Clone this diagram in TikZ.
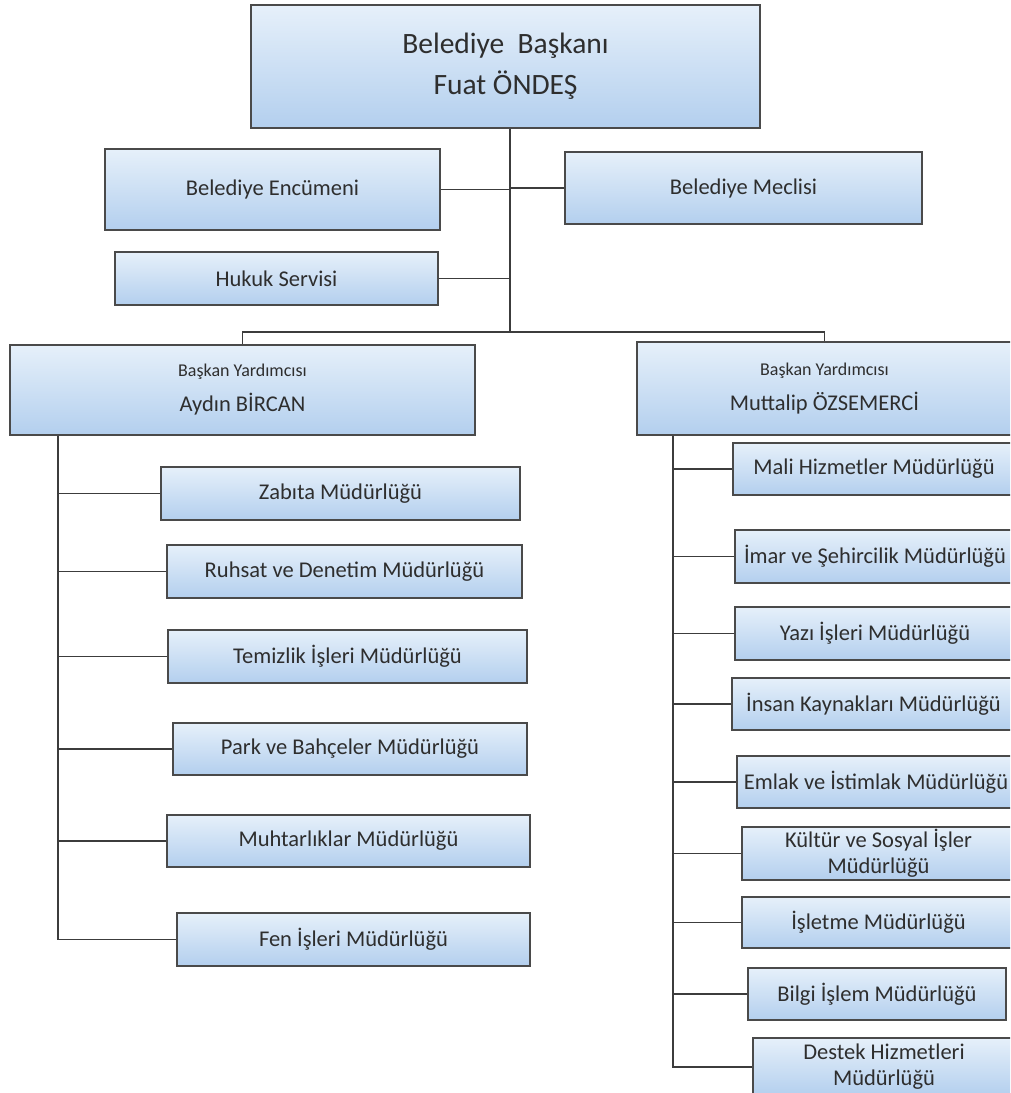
\documentclass[tikz,border=0pt]{standalone}
\usepackage{fontspec}
\setmainfont{Carlito}
\definecolor{kenar}{HTML}{4A4A4A}
\definecolor{hat}{HTML}{3C3C3C}
\definecolor{ust}{HTML}{E6F0FA}
\definecolor{alt}{HTML}{B3CFEE}
\definecolor{yazi}{HTML}{2E2E2E}
\tikzset{
  kutu/.style={draw=kenar, line width=1.4pt, top color=ust, bottom color=alt, inner sep=0pt,
    align=center, text=yazi, font=\fontsize{22.5}{26}\selectfont},
  hatcizgi/.style={draw=hat, line width=1.6pt}
}
\begin{document}
\begin{tikzpicture}[x=1pt,y=-1pt]
\useasboundingbox (0,0) rectangle (1010,1093);
\clip (0,0) rectangle (1010,1093);
\fill[white] (0,0) rectangle (1010,1093);

%Baskan
\node[kutu, minimum width=509pt, minimum height=123pt, font=\fontsize{29.5}{41}\selectfont] (bsk) at (505.5,66.5) {Belediye\ \ Başkanı\\Fuat ÖNDEŞ};
\node[kutu, minimum width=335pt, minimum height=81pt] (enc) at (272.5,189.5) {Belediye Encümeni};
\node[kutu, minimum width=357pt, minimum height=72pt] (mec) at (743.5,188) {Belediye Meclisi};
\node[kutu, minimum width=323pt, minimum height=53pt] (huk) at (276.5,278.5) {Hukuk Servisi};

%Baskan Yardimcilari
\node[kutu, minimum width=465pt, minimum height=90pt] (vpl) at (242.5,390) {{\fontsize{18}{20}\selectfont Başkan Yardımcısı}\\[9pt]Aydın BİRCAN};
\node[kutu, minimum width=375pt, minimum height=93pt] (vpr) at (824.5,388.5) {{\fontsize{18}{20}\selectfont Başkan Yardımcısı}\\[9pt]Muttalip ÖZSEMERCİ};

\coordinate (split) at (510,332);
\draw[hatcizgi] (bsk.south -| split) -- (split);
\draw[hatcizgi] (vpl.north) |- (split) -| (vpr.north);
\draw[hatcizgi] (enc.east) -- (enc.east -| split);
\draw[hatcizgi] (mec.west) -- (mec.west -| split);
\draw[hatcizgi] (huk.east) -- (huk.east -| split);

%Sol kol
\node[kutu, minimum width=359pt, minimum height=53pt] (zab) at (340.5,493.5) {Zabıta Müdürlüğü};
\node[kutu, minimum width=355pt, minimum height=53pt] (ruh) at (344.5,571.5) {Ruhsat ve Denetim Müdürlüğü};
\node[kutu, minimum width=359pt, minimum height=53pt] (tem) at (347.5,656.5) {Temizlik İşleri Müdürlüğü};
\node[kutu, minimum width=354pt, minimum height=52pt] (prk) at (350,749) {Park ve Bahçeler Müdürlüğü};
\node[kutu, minimum width=363pt, minimum height=52pt] (muh) at (348.5,841) {Muhtarlıklar Müdürlüğü};
\node[kutu, minimum width=353pt, minimum height=53pt] (fen) at (353.5,939.5) {Fen İşleri Müdürlüğü};

\coordinate (lsp) at (58,0);
\draw[hatcizgi] (vpl.south -| lsp) -- (fen.west -| lsp) -- (fen.west);
\foreach \n in {zab,ruh,tem,prk,muh}
  \draw[hatcizgi] (\n.west) -- (\n.west -| lsp);

%Sag kol
\node[kutu, minimum width=282pt, minimum height=52pt] (mal) at (874,469) {Mali Hizmetler Müdürlüğü};
\node[kutu, minimum width=280pt, minimum height=53pt] (imr) at (875,556.5) {İmar ve Şehircilik Müdürlüğü};
\node[kutu, minimum width=280pt, minimum height=53pt] (yzi) at (875,633.5) {Yazı İşleri Müdürlüğü};
\node[kutu, minimum width=283pt, minimum height=52pt] (ins) at (873.5,704) {İnsan Kaynakları Müdürlüğü};
\node[kutu, minimum width=278pt, minimum height=52pt] (eml) at (876,782) {Emlak ve İstimlak Müdürlüğü};
\node[kutu, minimum width=273pt, minimum height=53pt] (klt) at (878.5,853.5) {Kültür ve Sosyal İşler\\Müdürlüğü};
\node[kutu, minimum width=273pt, minimum height=51pt] (isl) at (878.5,922.5) {İşletme Müdürlüğü};
\node[kutu, minimum width=258pt, minimum height=52pt] (blg) at (877,994) {Bilgi İşlem Müdürlüğü};
\node[kutu, minimum width=262pt, minimum height=58pt] (dst) at (884,1067) {Destek Hizmetleri\\Müdürlüğü};

\coordinate (rsp) at (673,0);
\draw[hatcizgi] (vpr.south -| rsp) -- (dst.west -| rsp) -- (dst.west);
\foreach \n in {mal,imr,yzi,ins,eml,klt,isl,blg}
  \draw[hatcizgi] (\n.west) -- (\n.west -| rsp);
\end{tikzpicture}
\end{document}
